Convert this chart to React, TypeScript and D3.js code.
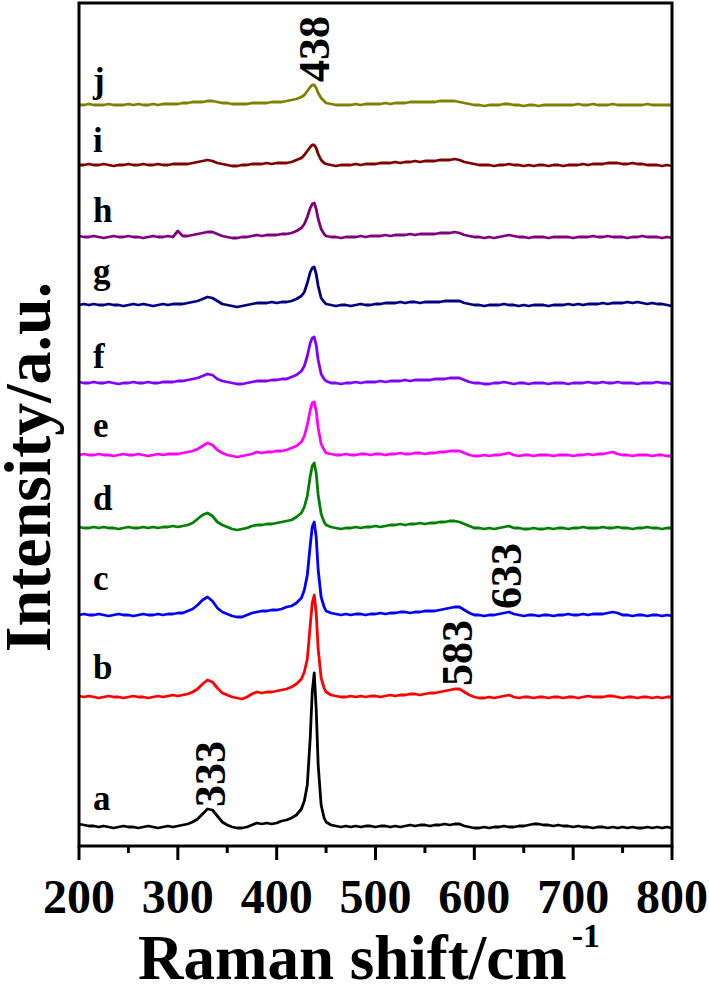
import React, { useEffect, useRef } from "react";
import * as d3 from "d3";

const width = 709;
const height = 985;
const margin = { top: 3, right: 37, bottom: 139, left: 79 };

// Raman shift grid (cm^-1), denser around the 438 band
const wavenumbers = [
  200, 205, 210, 215, 220, 225, 230, 235, 240, 245, 250, 255, 260, 265, 270, 275, 280, 285, 290, 295, 300,
  305, 310, 315, 320, 325, 330, 335, 340, 345, 350, 355, 360, 365, 370, 375, 380, 385, 390, 395, 400, 405, 410, 415, 420, 425,
  428, 431, 434, 436, 438, 440, 442, 445, 448,
  450, 455, 460, 465, 470, 475, 480, 485, 490, 495, 500, 505, 510, 515, 520, 525, 530, 535, 540, 545, 550, 555, 560, 565, 570, 575, 580, 585, 590, 595, 600,
  605, 610, 615, 620, 625, 630, 635, 640, 645, 650, 655, 660, 665, 670, 675, 680, 685, 690, 695, 700, 705, 710, 715, 720, 725, 730, 735, 740, 745, 750, 755, 760, 765, 770, 775, 780, 785, 790, 795, 800,
];

const sampleNames = ["a", "b", "c", "d", "e", "f", "g", "h", "i", "j"];
const sampleColors = ["#000000", "#ff0000", "#0000ff", "#008000", "#ff00ff", "#8000ff", "#000080", "#800080", "#800000", "#808000"];
// vertical stacking offset of each spectrum (a.u.)
const offsets = [19, 149, 231, 318, 391, 463, 541, 609, 681, 741];

const spectrumA = [
  3, 2, 1, 1, 0, 1, 0, -1, 0, 1, 0, 0, -1, 0, 1, 0, -1, 0, 1, 0, 1,
  2, 3, 5, 8, 13, 18, 17, 11, 5, 2, 0, -1, -1, 0, 2, 4, 3, 4, 3, 4, 6, 7, 9, 12, 18,
  26, 42, 90, 135, 154, 118, 62, 22, 9,
  5, 2, 1, 0, 1, 0, 1, 0, 1, 1, 0, 1, 1, 0, 1, 0, 1, 2, 1, 2, 2, 1, 2, 2, 3, 2, 3, 3, 1, 0, -1,
  -1, 0, -1, 0, 0, 1, 0, 0, 1, 1, 2, 3, 3, 2, 2, 1, 2, 1, 1, 0, 1, 0, 0, -1, 0, 0, -1, 0, -1, 0, -1, 0, -1, -1, 0, -1, 0, -1, 0, -1,
];
const spectrumB = [
  1, 0, 1, 0, -1, 0, 1, 0, 0, -1, 0, 1, 0, 0, -1, 0, 1, 0, 1, 2, 1,
  2, 3, 5, 8, 13, 17, 15, 9, 4, 2, 0, -1, -2, 0, 3, 5, 4, 5, 5, 6, 7, 8, 10, 13, 18,
  25, 38, 72, 94, 102, 84, 48, 19, 9,
  5, 2, 1, 0, 0, 1, 0, 1, 0, 1, 1, 0, 1, 2, 1, 2, 2, 3, 3, 2, 3, 4, 4, 5, 6, 7, 8, 8, 5, 2, 0,
  -1, -1, 0, -1, 0, 1, 2, 0, -1, 0, 0, -1, 0, 0, -1, 0, 0, -1, 0, 0, -1, 0, 1, 0, 0, 0, 1, 1, 0, -1, 0, 0, -1, 0, 0, -1, 0, -1, 0, 0,
];
const spectrumC = [
  0, 1, 0, 0, 1, 0, -1, 0, 1, 0, 0, -1, 0, 1, 0, 0, 1, 0, 1, 1, 2,
  2, 4, 6, 10, 15, 18, 14, 7, 3, 1, -1, -2, -2, 0, 2, 3, 4, 4, 5, 5, 6, 8, 9, 12, 17,
  25, 40, 70, 88, 93, 78, 45, 18, 8,
  4, 2, 1, 0, 1, 0, 1, 1, 0, 1, 1, 2, 1, 2, 2, 3, 3, 2, 3, 3, 4, 4, 4, 5, 6, 7, 8, 8, 5, 2, 0,
  0, -1, 0, 0, 1, 2, 3, 1, 0, -1, 0, 0, -1, 0, 0, -1, 0, 0, 1, 0, 0, 1, 0, 1, 1, 1, 2, 3, 2, 0, 0, -1, 0, 0, -1, 0, 0, -1, 0, -1,
];
const spectrumD = [
  1, 0, 0, 1, 0, 1, 0, 0, -1, 0, 1, 0, 0, 1, 0, 1, 0, 1, 1, 2, 1,
  2, 3, 5, 9, 13, 15, 12, 6, 3, 1, -1, -2, -1, 0, 2, 3, 3, 4, 4, 5, 6, 7, 8, 11, 15,
  21, 32, 52, 62, 65, 55, 33, 14, 6,
  3, 1, 0, -1, 0, 0, 1, 0, 1, 1, 2, 1, 2, 3, 3, 4, 3, 4, 4, 5, 4, 5, 5, 6, 6, 7, 7, 6, 4, 2, 0,
  0, -1, 0, -1, 0, 1, 2, 0, 0, -1, -1, 0, -1, -1, 0, -1, 0, 0, -1, 0, 0, 1, 0, 0, 0, 1, 0, 0, 1, 0, 0, -1, 0, 0, 1, 0, 0, -1, 0, 0,
];
const spectrumE = [
  0, 1, 0, 0, 1, 0, 0, -1, 0, 1, 0, 0, 1, 0, -1, 0, 1, 0, 1, 1, 1,
  2, 3, 4, 6, 9, 12, 10, 5, 2, 0, -1, -2, -1, 0, 1, 3, 2, 3, 3, 4, 4, 5, 7, 9, 13,
  19, 30, 45, 52, 53, 44, 27, 11, 5,
  2, 1, 0, 0, 1, 0, 0, 1, 1, 0, 1, 1, 0, 1, 1, 2, 1, 1, 2, 2, 1, 2, 2, 3, 3, 4, 4, 4, 2, 0, -1,
  -1, 0, -1, 0, 0, 1, 2, 0, -1, 0, 0, -1, 0, 0, 0, -1, 0, 0, 0, -1, 0, 0, 1, 0, 1, 1, 2, 3, 1, 0, 0, -1, 0, 0, 0, -1, 0, 0, -1, -1,
];
const spectrumF = [
  1, 0, 0, 1, 0, 0, 1, 0, -1, 0, 0, 1, 0, 0, 1, 0, 0, 1, 1, 1, 2,
  2, 3, 4, 5, 7, 9, 8, 4, 2, 1, 0, -1, -1, 0, 1, 2, 2, 2, 3, 3, 4, 4, 6, 8, 12,
  17, 27, 40, 45, 46, 38, 23, 9, 4,
  2, 0, 0, -1, 0, 0, 1, 0, 1, 1, 1, 2, 1, 2, 2, 2, 3, 2, 3, 3, 3, 3, 4, 4, 4, 5, 5, 5, 3, 1, 0,
  0, -1, -1, 0, 0, 1, 0, -1, 0, 0, -1, 0, 0, 0, -1, 0, 0, 0, -1, 0, 0, 0, 1, 0, 0, 1, 0, 0, 1, 0, 0, 0, -1, 0, 0, 0, 1, 0, 0, -1,
];
const spectrumG = [
  0, 1, 0, 1, 0, 0, 1, 0, 0, -1, 0, 1, 0, 1, 0, -1, 0, 1, 0, 1, 1,
  1, 2, 3, 4, 6, 8, 7, 4, 1, 0, -1, -2, -1, 0, 1, 2, 2, 2, 3, 2, 3, 3, 4, 6, 9,
  13, 22, 33, 37, 38, 31, 19, 7, 3,
  1, 0, -1, 0, 0, -1, 0, 1, 0, 0, 1, 1, 2, 2, 2, 3, 2, 3, 3, 2, 3, 3, 3, 3, 4, 4, 4, 4, 2, 1, 0,
  0, -1, 0, 0, 0, 1, 0, 0, -1, 0, -1, 0, 0, 0, -1, 0, 0, 0, 1, 0, 1, 0, 1, 1, 1, 2, 1, 2, 2, 2, 3, 2, 3, 2, 1, 2, 1, 1, 0, -1,
];
const spectrumH = [
  1, 0, 0, 1, 0, -1, 0, 1, 0, 0, 1, 0, 0, -1, 0, 1, 0, 0, 1, 0, 6,
  1, 1, 2, 3, 4, 5, 5, 3, 1, 0, -1, -1, 0, 0, 1, 2, 1, 2, 2, 2, 3, 3, 4, 6, 9,
  13, 20, 29, 33, 34, 28, 18, 8, 3,
  1, 0, 0, -1, 0, 0, 0, 1, 0, 1, 1, 1, 2, 1, 2, 2, 2, 3, 2, 3, 3, 3, 3, 4, 4, 4, 5, 4, 2, 1, 0,
  0, -1, 0, -1, 0, 1, 2, 1, 0, 0, -1, 0, 0, 0, -1, 0, 0, 0, 0, -1, 0, 0, 0, 1, 0, 0, 1, 0, 0, 0, -1, 0, 0, 1, 0, 0, 0, -1, 0, -1,
];
const spectrumI = [
  0, 0, 1, 0, 0, 1, 0, -1, 0, 0, 1, 0, 0, 1, 0, 0, 1, 0, 0, 1, 1,
  1, 1, 2, 3, 4, 5, 4, 2, 1, 0, -1, -1, 0, 0, 1, 1, 1, 2, 1, 2, 2, 2, 3, 5, 7,
  10, 14, 18, 20, 20, 17, 11, 5, 2,
  1, 0, -1, 0, 0, 0, 1, 0, 1, 1, 1, 2, 2, 2, 3, 2, 3, 3, 4, 3, 4, 4, 4, 5, 5, 5, 6, 5, 3, 2, 1,
  0, 0, 0, -1, 0, 0, 1, 0, 0, -1, 0, -1, 0, 0, -1, 0, 0, -1, 0, 0, 0, 1, 0, 1, 1, 1, 2, 2, 2, 1, 1, 2, 1, 1, 0, 0, 0, -1, 0, -1,
];
const spectrumJ = [
  0, 0, 1, 0, 0, 0, 1, 0, 0, 0, 1, 0, 1, 0, 0, 1, 0, 1, 1, 1, 1,
  2, 2, 3, 3, 3, 4, 4, 3, 2, 2, 1, 1, 1, 1, 2, 2, 2, 2, 3, 3, 3, 4, 5, 6, 8,
  10, 14, 18, 20, 20, 17, 12, 7, 4,
  2, 1, 0, 0, 0, 0, 1, 0, 1, 1, 1, 1, 2, 1, 2, 2, 2, 3, 3, 3, 3, 3, 3, 4, 4, 4, 4, 3, 2, 1, 0,
  0, -1, 0, 0, 0, 1, 1, 0, 0, -1, 0, 0, -1, 0, 0, 0, 0, 0, 0, 0, 1, 0, 0, 1, 0, 0, 0, 1, 0, 0, 0, 0, 0, 0, 1, 0, 0, 0, 0, 0,
];
const spectra = [spectrumA, spectrumB, spectrumC, spectrumD, spectrumE, spectrumF, spectrumG, spectrumH, spectrumI, spectrumJ];

// band assignments written on the figure
const peakLabels = ["333", "438", "583", "633"];
const peakPositions = [333, 438, 583, 633];
const peakSample = ["a", "j", "b", "c"];

const majorTicks = [200, 300, 400, 500, 600, 700, 800];
const minorTicks = [250, 350, 450, 550, 650, 750];

// how far each letter sits above its trace (px)
const letterRaise = [17, 18, 25, 18, 18, 15, 22, 15, 13, 13];

const FONT = "'Liberation Serif', 'Times New Roman', Times, serif";

export default function App() {
  const ref = useRef<SVGSVGElement>(null);

  useEffect(() => {
    const svg = d3.select(ref.current);
    svg.selectAll("*").remove();

    const x = d3.scaleLinear()
      .domain([200, 800])
      .range([margin.left, width - margin.right]);
    const y = d3.scaleLinear()
      .domain([0, 843])
      .range([height - margin.bottom, margin.top]);
    const axisY = height - margin.bottom;

    // spectra
    spectra.forEach((vals, i) => {
      const line = d3.line<number>()
        .x((d, k) => x(wavenumbers[k]))
        .y(d => y(d + offsets[i]));
      svg.append("path")
        .datum(vals)
        .attr("d", line)
        .attr("fill", "none")
        .attr("stroke", sampleColors[i])
        .attr("stroke-width", 2.8)
        .attr("stroke-linejoin", "round");

      svg.append("text")
        .attr("x", 93)
        .attr("y", y(offsets[i]) - letterRaise[i])
        .attr("font-family", FONT)
        .attr("font-weight", "bold")
        .attr("font-size", 35)
        .text(sampleNames[i]);
    });

    // peak annotations (vertical)
    peakLabels.forEach((lab, i) => {
      const s = sampleNames.indexOf(peakSample[i]);
      const k = wavenumbers.indexOf(peakPositions[i]);
      const k2 = k >= 0 ? k : d3.bisectLeft(wavenumbers, peakPositions[i]);
      const px = x(peakPositions[i]);
      const py = y(spectra[s][k2] + offsets[s]) - 3;
      svg.append("text")
        .attr("transform", `translate(${px},${py}) rotate(-90)`)
        .attr("dy", "0.33em")
        .attr("font-family", FONT)
        .attr("font-weight", "bold")
        .attr("font-size", 44)
        .text(lab);
    });

    // frame
    svg.append("rect")
      .attr("x", margin.left)
      .attr("y", margin.top)
      .attr("width", width - margin.left - margin.right)
      .attr("height", height - margin.top - margin.bottom)
      .attr("fill", "none")
      .attr("stroke", "#000")
      .attr("stroke-width", 3);

    // ticks
    svg.selectAll(".major").data(majorTicks).enter().append("line")
      .attr("x1", d => x(d)).attr("x2", d => x(d))
      .attr("y1", axisY).attr("y2", axisY + 14)
      .attr("stroke", "#000").attr("stroke-width", 3);
    svg.selectAll(".minor").data(minorTicks).enter().append("line")
      .attr("x1", d => x(d)).attr("x2", d => x(d))
      .attr("y1", axisY).attr("y2", axisY + 7)
      .attr("stroke", "#000").attr("stroke-width", 3);

    svg.selectAll(".ticklab").data(majorTicks).enter().append("text")
      .attr("x", d => x(d))
      .attr("y", 913)
      .attr("text-anchor", "middle")
      .attr("font-family", FONT)
      .attr("font-weight", "bold")
      .attr("font-size", 48)
      .text(d => d);

    // axis titles
    const xt = svg.append("text")
      .attr("x", 138)
      .attr("y", 979)
      .attr("font-family", FONT)
      .attr("font-weight", "bold")
      .attr("font-size", 63)
      .text("Raman shift/cm");
    xt.append("tspan")
      .attr("dx", 5)
      .attr("dy", -32)
      .attr("font-size", 34)
      .text("-1");

    svg.append("text")
      .attr("transform", "translate(50,467) rotate(-90)")
      .attr("text-anchor", "middle")
      .attr("font-family", FONT)
      .attr("font-weight", "bold")
      .attr("font-size", 66)
      .text("Intensity/a.u.");
  }, []);

  return (
    <svg
      ref={ref}
      width={width}
      height={height}
      style={{ position: "absolute", left: 0, top: 0, background: "#fff" }}
    />
  );
}
